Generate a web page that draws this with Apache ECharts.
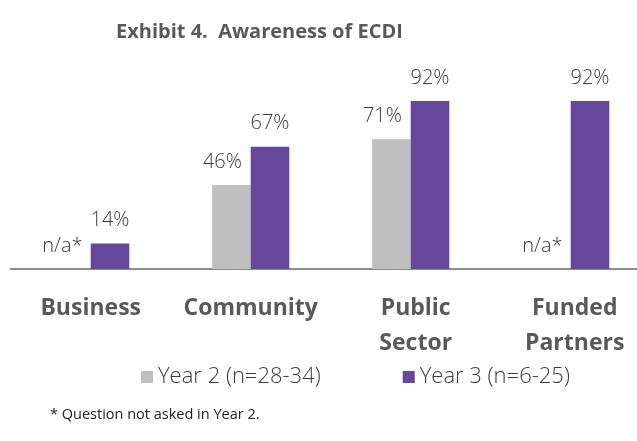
<!DOCTYPE html>
<html>
<head>
<meta charset="utf-8">
<script src="https://cdn.jsdelivr.net/npm/echarts@6/dist/echarts.min.js"></script>
<style>html,body{margin:0;padding:0;background:#fff}#c{width:637px;height:441px}</style>
</head>
<body>
<div id="c"></div>
<script>
const categories = ['Business', 'Community', 'Public\nSector', 'Funded\nPartners'];
const year2Values = [null, 46, 71, null];
const year3Values = [14, 67, 92, 92];
const seriesNames = ['Year 2 (n=28-34)', 'Year 3 (n=6-25)'];
const titleText = 'Exhibit 4.  Awareness of ECDI';
const footnoteText = '* Question not asked in Year 2.';
const missingLabel = 'n/a*';

const FONT = '"Open Sans", "Liberation Sans", sans-serif';
const chart = echarts.init(document.getElementById('c'), null, {renderer: 'canvas'});

const labelBase = {
  show: true, position: 'top', distance: 13,
  fontFamily: FONT, fontSize: 20, fontWeight: 300, color: '#3b3b3b',
  formatter: p => p.value + '%'
};

const year2Data = year2Values.map(v => v === null
  ? {value: 0, itemStyle: {color: 'rgba(0,0,0,0)'}, label: {formatter: missingLabel}}
  : v);

const labelShift = [0, 0, 10, 8];
const categoryData = categories.map((c, i) => ({
  value: c, textStyle: {padding: [0, 0, 0, labelShift[i]]}
}));

chart.setOption({
  animation: false,
  title: {
    text: titleText, left: 111, top: 17,
    textStyle: {fontFamily: FONT, fontSize: 20, fontWeight: 'bold', color: '#58595b'}
  },
  grid: {left: 10.7, width: 640, top: 86.4, bottom: 172, containLabel: false, outerBoundsMode: 'none'},
  xAxis: {
    type: 'category', data: categoryData,
    axisLine: {lineStyle: {color: '#8c8c8c', width: 2}},
    axisTick: {show: false},
    axisLabel: {fontFamily: FONT, fontSize: 23, fontWeight: 'bold', color: '#58595b',
      margin: 22, lineHeight: 35, interval: 0}
  },
  yAxis: {type: 'value', min: 0, max: 100, show: false, splitLine: {show: false}},
  legend: {
    left: 141, top: 366, padding: 0, itemWidth: 12, itemHeight: 12, itemGap: 82, icon: 'rect',
    textStyle: {fontFamily: FONT, fontSize: 22, fontWeight: 300, color: '#3b3b3b'},
    data: seriesNames
  },
  graphic: [{
    type: 'text', left: 50, top: 407,
    style: {text: footnoteText, font: '14.5px ' + FONT, fill: '#222'}
  }],
  series: [
    {name: seriesNames[0], type: 'bar', data: year2Data, barWidth: 38.6, barGap: '0%',
      itemStyle: {color: '#bfbfbf'},
      label: Object.assign({}, labelBase, {offset: [-9, 0]})},
    {name: seriesNames[1], type: 'bar', data: year3Values, barWidth: 38.6,
      itemStyle: {color: '#66489a'},
      label: labelBase}
  ]
});
</script>
</body>
</html>
